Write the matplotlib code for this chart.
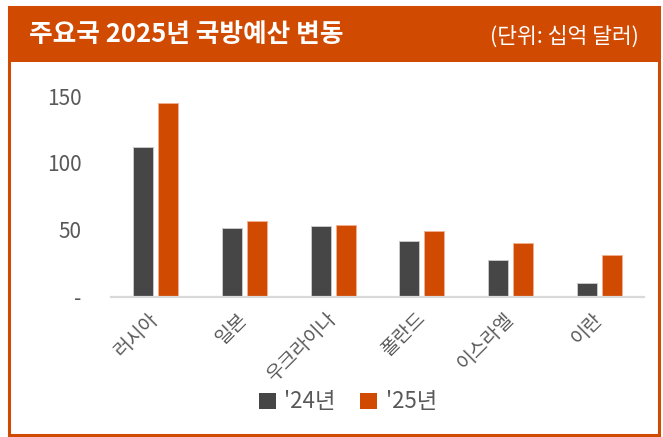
import matplotlib
matplotlib.use('Agg')
import matplotlib.pyplot as plt
import numpy as np
from matplotlib.patches import Rectangle, Patch

plt.rcParams['font.family'] = ['Noto Sans CJK KR', 'DejaVu Sans']

# data (십억 달러)
countries = ['러시아', '일본', '우크라이나', '폴란드', '이스라엘', '이란']
budget_24 = [112, 51, 52.5, 41.5, 27, 10.3]
budget_25 = [145, 56.5, 53.8, 48.8, 40, 30.8]
series_labels = ["'24년", "'25년"]
yticks = [0, 50, 100, 150]
ytick_labels = ['-', '50', '100', '150']

ORANGE = '#D04A02'
DARK = '#464646'
GRAY_TXT = '#595959'

W, H = 663, 437
fig = plt.figure(figsize=(W / 100, H / 100), dpi=100)

def fx(px):
    return px / W

def fy(py):
    return 1 - py / H

# header band and outer border
fig.patches.append(Rectangle((fx(8), fy(62)), fx(652), 55 / H, transform=fig.transFigure,
                             facecolor=ORANGE, edgecolor='none', zorder=0))
fig.patches.append(Rectangle((fx(9), fy(435)), fx(650), 428 / H, transform=fig.transFigure,
                             facecolor='none', edgecolor=ORANGE, linewidth=2.2, zorder=1))

fig.text(fx(29), fy(34), '주요국 2025년 국방예산 변동', color='white', fontsize=18.5,
         fontweight='bold', ha='left', va='center')
fig.text(fx(639), fy(37), '(단위: 십억 달러)', color='white', fontsize=15.5,
         ha='right', va='center')

ax = fig.add_axes([fx(111), fy(296.5), fx(644) - fx(111), 213.8 / H])
x = np.arange(len(countries))
bw = 0.225
off = 0.141
ax.bar(x - off, budget_24, bw, color=DARK, edgecolor='#c8c8c8', linewidth=0.7, label=series_labels[0])
ax.bar(x + off, budget_25, bw, color=ORANGE, edgecolor='#f0b090', linewidth=0.7, label=series_labels[1])

ax.set_xlim(-0.5, len(countries) - 0.5)
ax.set_ylim(0, 160)
ax.set_yticks(yticks)
ax.set_yticklabels(ytick_labels)
ax.set_xticks(x)
ax.set_xticklabels(countries, rotation=45, ha='right', va='center', rotation_mode='anchor')

for s in ['top', 'right', 'left']:
    ax.spines[s].set_visible(False)
ax.spines['bottom'].set_color('#d9d9d9')
ax.spines['bottom'].set_linewidth(1.6)
ax.tick_params(axis='y', length=0, pad=21, labelsize=15, labelcolor=GRAY_TXT)
ax.tick_params(axis='x', length=0, pad=14, labelsize=14, labelcolor=GRAY_TXT)

handles = [Patch(facecolor=DARK, edgecolor='none'), Patch(facecolor=ORANGE, edgecolor='none')]
fig.legend(handles, series_labels, loc='center', bbox_to_anchor=(fx(348), fy(402)), ncol=2,
           frameon=False, fontsize=16, labelcolor=GRAY_TXT, handlelength=0.75, handleheight=0.75,
           handletextpad=0.4, columnspacing=1.1)

fig.savefig('out.png', dpi=100)
